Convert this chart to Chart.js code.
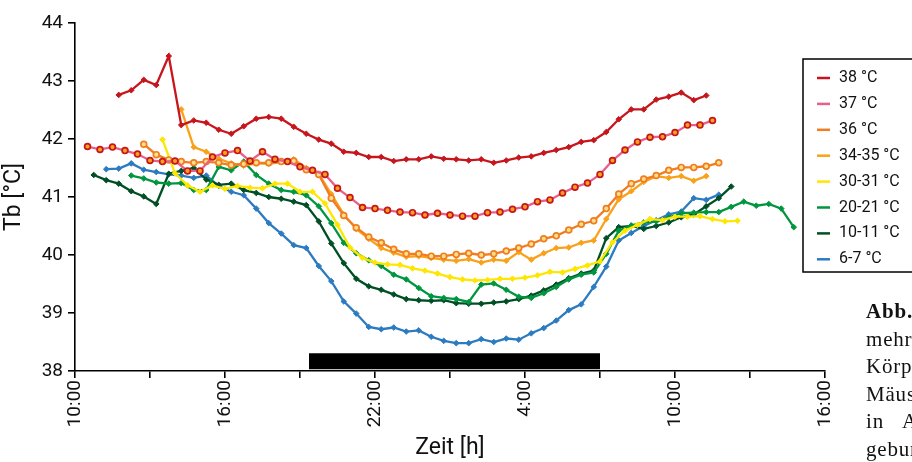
<!DOCTYPE html>
<html>
<head>
<meta charset="utf-8">
<script src="https://cdn.jsdelivr.net/npm/chart.js@4.4.1/dist/chart.umd.min.js"></script>
<style>
  body { margin: 0; background: #fff; }
  #wrap { position: relative; width: 912px; height: 462px; overflow: hidden; }
  #caption {
    position: absolute; left: 866px; top: 298px; width: 300px;
    font-family: "Liberation Serif", "DejaVu Serif", serif;
    font-size: 21px; line-height: 27.5px; letter-spacing: 0.8px;
    color: #111; white-space: nowrap;
  }
</style>
</head>
<body>
<div id="wrap">
  <canvas id="myChart"></canvas>
  <div id="caption">
    <b>Abb.</b> &nbsp;Verlauf der<br>
    mehrtägigen Messung der<br>
    Körpertemperatur von<br>
    Mäusen bei verschiedenen<br>
    in&nbsp;&nbsp;&nbsp;Abhängigkeit von der<br>
    geburt
  </div>
</div>
<script>
// hours after 10:00, one reading every half hour
var step = 0.5;

var labels = ["38 °C", "37 °C", "36 °C", "34-35 °C", "30-31 °C", "20-21 °C", "10-11 °C", "6-7 °C"];
var lineColors = ["#C4161C", "#E8608A", "#F07D21", "#F9A11B", "#FFE600", "#00963F", "#004F25", "#2C7BC1"];
var starts = [1.75, 0.5, 2.75, 4.25, 3.5, 2.25, 0.75, 1.25];

var t38 = [42.76, 42.84, 43.02, 42.93, 43.43, 42.24, 42.32, 42.28, 42.16, 42.09, 42.22, 42.35, 42.38, 42.35, 42.21, 42.09,
  41.99, 41.92, 41.78, 41.76, 41.69, 41.69, 41.62, 41.65, 41.65, 41.70, 41.66, 41.65, 41.63, 41.65, 41.59, 41.63,
  41.68, 41.70, 41.76, 41.81, 41.86, 41.95, 41.98, 42.12, 42.34, 42.51, 42.51, 42.68, 42.73, 42.80, 42.67, 42.75];
var t37 = [41.87, 41.82, 41.86, 41.80, 41.74, 41.63, 41.61, 41.62, 41.45, 41.45, 41.69, 41.76, 41.80, 41.62, 41.78, 41.65,
  41.61, 41.52, 41.46, 41.39, 41.15, 40.99, 40.82, 40.80, 40.77, 40.74, 40.73, 40.69, 40.72, 40.69, 40.67, 40.67,
  40.73, 40.74, 40.79, 40.83, 40.92, 40.95, 41.07, 41.17, 41.24, 41.39, 41.63, 41.81, 41.95, 42.03, 42.04, 42.11,
  42.24, 42.24, 42.32];
var t36 = [41.91, 41.73, 41.64, 41.61, 41.59, 41.61, 41.59, 41.55, 41.57, 41.59, 41.59, 41.61, 41.62, 41.47, 41.39, 40.98,
  40.68, 40.47, 40.31, 40.21, 40.10, 40.02, 40.02, 39.98, 39.98, 40.01, 40.03, 40.00, 40.02, 40.07, 40.12, 40.19,
  40.28, 40.33, 40.43, 40.53, 40.59, 40.80, 41.05, 41.23, 41.31, 41.37, 41.46, 41.51, 41.51, 41.53, 41.59];
var t34 = [42.51, 41.86, 41.78, 41.66, 41.58, 41.54, 41.58, 41.57, 41.60, 41.65, 41.50, 41.40, 41.05, 40.70, 40.45, 40.28,
  40.12, 40.04, 39.97, 39.98, 39.95, 39.92, 39.90, 39.93, 39.87, 39.92, 39.90, 40.05, 39.92, 40.03, 40.12, 40.13,
  40.21, 40.25, 40.62, 40.96, 41.10, 41.26, 41.36, 41.33, 41.36, 41.28, 41.36];
var t30 = [41.99, 41.41, 41.20, 41.09, 41.20, 41.14, 41.19, 41.16, 41.15, 41.23, 41.23, 41.09, 41.09, 40.89, 40.52, 40.13,
  39.95, 39.87, 39.84, 39.83, 39.77, 39.73, 39.68, 39.62, 39.58, 39.56, 39.57, 39.59, 39.59, 39.61, 39.65, 39.71,
  39.70, 39.76, 39.82, 39.89, 40.22, 40.42, 40.52, 40.62, 40.60, 40.66, 40.66, 40.67, 40.62, 40.58, 40.59];
var t20 = [41.37, 41.32, 41.25, 41.23, 41.24, 41.12, 41.12, 41.52, 41.46, 41.61, 41.38, 41.23, 41.12, 41.09, 41.03, 40.84,
  40.55, 40.21, 40.03, 39.91, 39.81, 39.66, 39.58, 39.43, 39.29, 39.26, 39.24, 39.19, 39.49, 39.51, 39.40, 39.28,
  39.26, 39.34, 39.45, 39.58, 39.66, 39.70, 40.02, 40.42, 40.51, 40.56, 40.58, 40.65, 40.72, 40.73, 40.74, 40.74,
  40.83, 40.92, 40.85, 40.88, 40.80, 40.48];
var t10 = [41.38, 41.29, 41.23, 41.10, 41.01, 40.88, 41.40, 41.45, 41.50, 41.30, 41.21, 41.23, 41.12, 41.07, 41.00, 40.97,
  40.92, 40.86, 40.58, 40.20, 39.86, 39.59, 39.46, 39.40, 39.32, 39.24, 39.22, 39.21, 39.22, 39.17, 39.16, 39.16,
  39.18, 39.20, 39.24, 39.30, 39.39, 39.49, 39.60, 39.68, 39.73, 40.29, 40.48, 40.50, 40.45, 40.50, 40.56, 40.65,
  40.70, 40.84, 40.98, 41.18];
var t6 = [41.48, 41.49, 41.58, 41.47, 41.43, 41.39, 41.37, 41.33, 41.37, 41.19, 41.09, 41.03, 40.80, 40.55, 40.37, 40.17,
  40.12, 39.81, 39.55, 39.20, 38.99, 38.76, 38.72, 38.75, 38.68, 38.70, 38.59, 38.52, 38.48, 38.48, 38.55, 38.50,
  38.56, 38.54, 38.65, 38.74, 38.87, 39.05, 39.15, 39.45, 39.80, 40.25, 40.38, 40.50, 40.60, 40.70, 40.75, 40.98,
  40.95, 41.04];
var series = [t38, t37, t36, t34, t30, t20, t10, t6];

// dark phase (black bar under the curves)
var night = [9.36, 21.0];
var nightLevel = 38.17;

function points(start, vals) {
  return vals.map(function (v, i) { return { x: start + i * step, y: v }; });
}

var datasets = series.map(function (vals, k) {
  var ds = {
    label: labels[k],
    data: points(starts[k], vals),
    borderColor: lineColors[k],
    backgroundColor: lineColors[k],
    borderWidth: 2.3,
    pointStyle: "rectRot",
    pointRadius: 2.8,
    pointBorderWidth: 1,
    pointBackgroundColor: lineColors[k],
    pointBorderColor: lineColors[k],
    tension: 0
  };
  if (k === 0) { ds.borderColor = "#C8161D"; }
  if (k === 1) {
    ds.pointStyle = "circle"; ds.pointRadius = 2.9; ds.pointBorderWidth = 1.7;
    ds.pointBackgroundColor = "#F9A11B"; ds.pointBorderColor = "#C4161C";
  }
  if (k === 2) {
    ds.pointStyle = "circle"; ds.pointRadius = 2.9; ds.pointBorderWidth = 1.7;
    ds.pointBackgroundColor = "#FFE08A"; ds.pointBorderColor = "#F07D21";
  }
  return ds;
});

datasets.push({
  label: "night",
  data: [{ x: night[0], y: nightLevel }, { x: night[1], y: nightLevel }],
  borderColor: "#000",
  borderWidth: 16,
  borderCapStyle: "butt",
  pointRadius: 0
});

var boxLegend = {
  id: "boxLegend",
  afterDraw: function (chart) {
    var ctx = chart.ctx;
    ctx.save();
    ctx.fillStyle = "#fff";
    ctx.fillRect(803, 59, 130, 213);
    ctx.strokeStyle = "#000";
    ctx.lineWidth = 1.5;
    ctx.strokeRect(803, 59, 130, 213);
    ctx.font = "16px Roboto";
    ctx.textBaseline = "middle";
    for (var k = 0; k < labels.length; k++) {
      var y = 78 + k * 25.9;
      ctx.strokeStyle = lineColors[k];
      ctx.lineWidth = 2.5;
      ctx.beginPath();
      ctx.moveTo(817, y);
      ctx.lineTo(830, y);
      ctx.stroke();
      ctx.fillStyle = "#111";
      ctx.fillText(labels[k], 839, y);
    }
    ctx.restore();
  }
};

var myChart = document.getElementById("myChart").getContext("2d");
var chart = new Chart(myChart, {
  type: "line",
  data: { datasets: datasets },
  options: {
    responsive: true,
    maintainAspectRatio: false,
    animation: false,
    layout: { padding: { top: 23, right: 87, left: 0, bottom: 0 } },
    plugins: {
      legend: { display: false },
      tooltip: { enabled: false }
    },
    scales: {
      x: {
        type: "linear",
        min: 0,
        max: 30,
        afterFit: function (s) { s.height = 91; },
        border: { color: "#000", width: 1.6 },
        grid: { drawOnChartArea: false, tickLength: 7, tickColor: "#000", lineWidth: 1.6 },
        ticks: {
          stepSize: 3,
          minRotation: 90,
          maxRotation: 90,
          padding: 2,
          color: "#111",
          font: { family: "Roboto", size: 19 },
          callback: function (v) { return v % 6 === 0 ? ((10 + v) % 24) + ":00" : ""; }
        },
        title: {
          display: true,
          text: "Zeit [h]",
          color: "#111",
          font: { family: "Roboto", size: 23 },
          padding: { top: 0, bottom: 0 }
        }
      },
      y: {
        min: 38,
        max: 44,
        afterFit: function (s) { s.width = 75; },
        border: { color: "#000", width: 1.6 },
        grid: { drawOnChartArea: false, tickLength: 7, tickColor: "#000", lineWidth: 1.6 },
        ticks: {
          stepSize: 1,
          padding: 5,
          color: "#111",
          font: { family: "Roboto", size: 19 }
        },
        title: {
          display: true,
          text: "Tb [°C]",
          color: "#111",
          font: { family: "Roboto", size: 23 },
          padding: { top: 0, bottom: 6 }
        }
      }
    }
  },
  plugins: [boxLegend]
});
</script>
</body>
</html>
